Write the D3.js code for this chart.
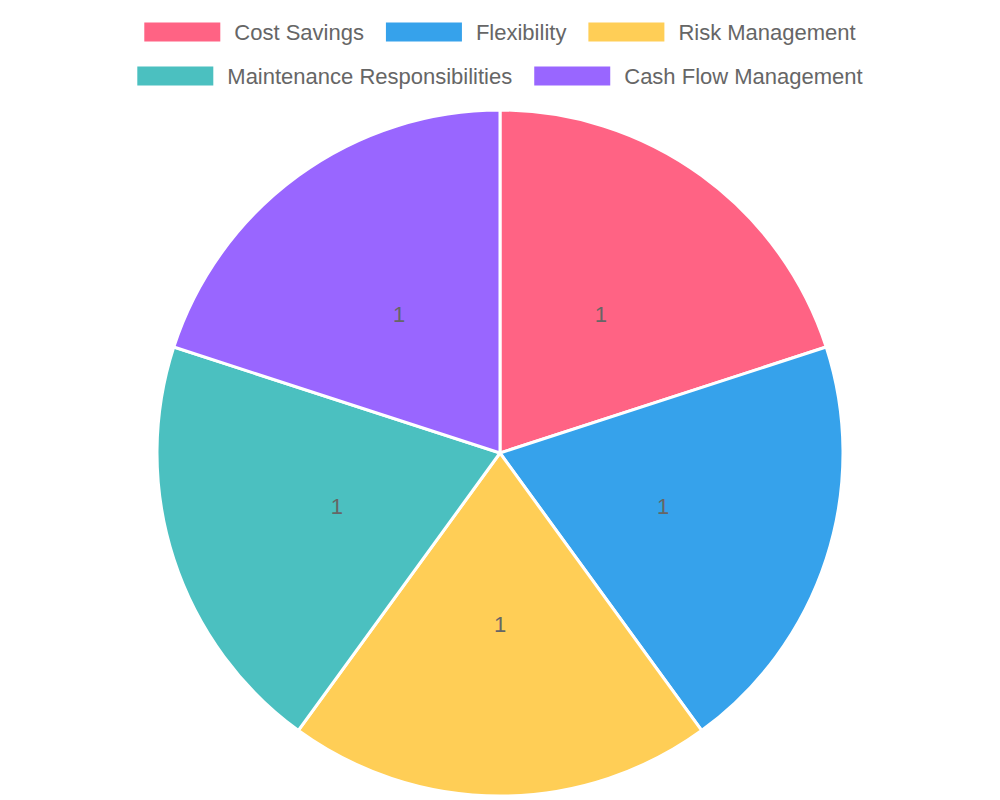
<!DOCTYPE html>
<html><head><meta charset="utf-8">
<script src="https://cdn.jsdelivr.net/npm/d3@7"></script>
<style>body{margin:0;background:#fff}</style>
</head><body>
<svg id="chart" width="1000" height="800"></svg>
<script>
const categories = ["Cost Savings", "Flexibility", "Risk Management", "Maintenance Responsibilities", "Cash Flow Management"];
const values = [1, 1, 1, 1, 1];
const colors = ["#ff6384", "#36a2eb", "#ffce56", "#4bc0c0", "#9966ff"];
const legendRows = [[0, 1, 2], [3, 4]];

const svg = d3.select("#chart");
const font = "'Liberation Sans', Arial, sans-serif";

// ── Legend ──
const boxW = 76, boxH = 19, gapText = 14, gapItem = 22;
legendRows.forEach((row, ri) => {
  const y = 32 + ri * 44;
  const g = svg.append("g");
  let x = 0;
  row.forEach(i => {
    g.append("rect").attr("x", x).attr("y", y - boxH / 2).attr("width", boxW).attr("height", boxH)
      .attr("fill", colors[i]);
    const t = g.append("text").attr("x", x + boxW + gapText).attr("y", y).attr("dy", "0.35em")
      .style("font-family", font).style("font-size", "22px").style("fill", "#666").text(categories[i]);
    x += boxW + gapText + t.node().getComputedTextLength() + gapItem;
  });
  const w = x - gapItem;
  g.attr("transform", `translate(${(1000 - w) / 2},0)`);
});

// ── Pie ──
const cx = 500, cy = 453, r = 343;
const pie = d3.pie().sort(null).value(d => d);
const arc = d3.arc().innerRadius(0).outerRadius(r);
const g = svg.append("g").attr("transform", `translate(${cx},${cy})`);
const arcs = pie(values);
g.selectAll("path").data(arcs).join("path")
  .attr("d", arc).attr("fill", (d, i) => colors[i])
  .attr("stroke", "#fff").attr("stroke-width", 3);
const labelArc = d3.arc().innerRadius(r / 2).outerRadius(r / 2);
g.selectAll("text").data(arcs).join("text")
  .attr("transform", d => `translate(${labelArc.centroid(d)})`)
  .attr("text-anchor", "middle").attr("dy", "0.35em")
  .style("font-family", font).style("font-size", "22px").style("fill", "#666")
  .text(d => d.data);
</script>
</body></html>
